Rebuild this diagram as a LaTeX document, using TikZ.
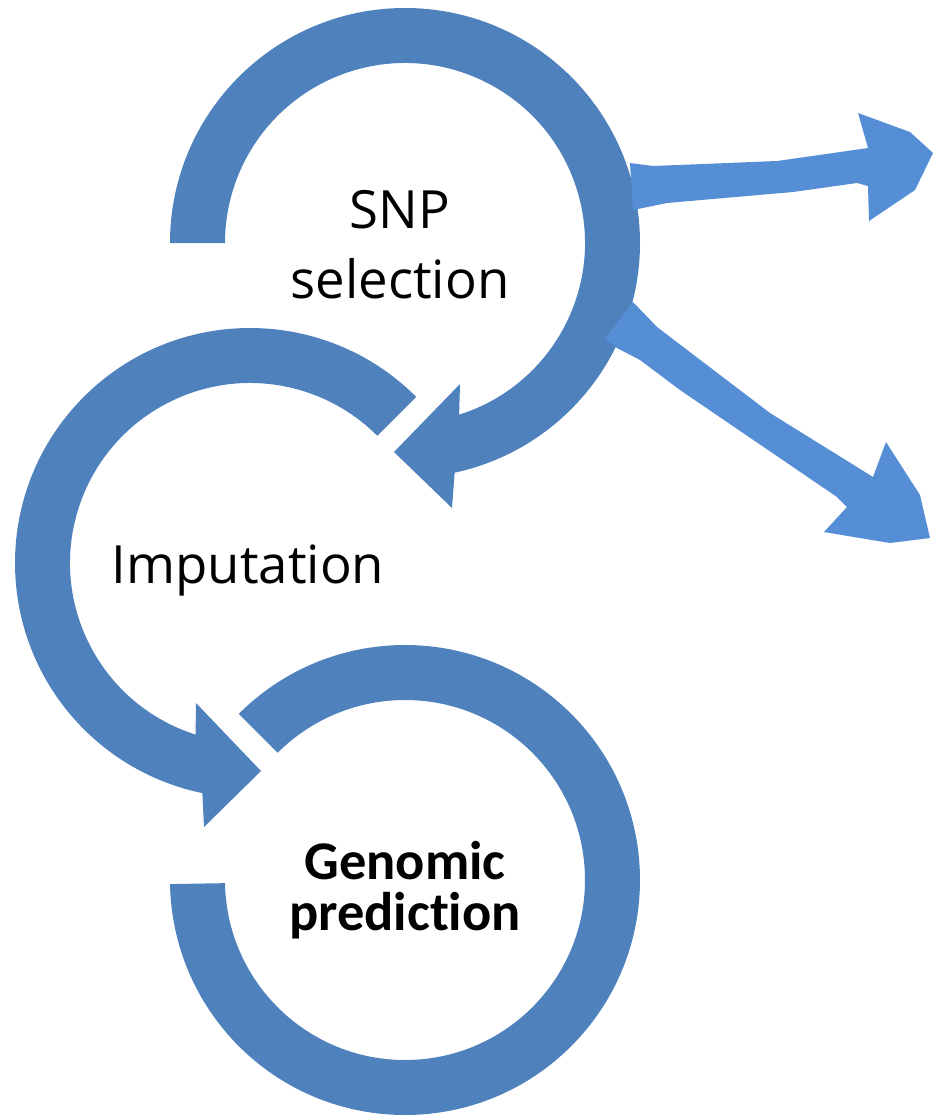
\documentclass[tikz,border=0pt]{standalone}
\usepackage{fontspec}
\newfontfamily\comicfont{Open Sans}
\newfontfamily\calfont[Ligatures=NoCommon]{Carlito}
\usetikzlibrary{calc}
\definecolor{ringblue}{HTML}{4F81BD}
\definecolor{arrowblue}{HTML}{558ED5}
\tikzset{
  ring/.style={fill=ringblue, draw=none},
  sidearrow/.style={fill=arrowblue, draw=none},
  handtext/.style={font=\comicfont\fontsize{30}{39.8}\selectfont, align=center, inner sep=0pt, text=black},
  boldtext/.style={font=\calfont\bfseries\fontsize{31}{29}\selectfont, align=center, inner sep=0pt, text=black}
}
\begin{document}
\begin{tikzpicture}[x=0.02cm, y=0.02cm]
\useasboundingbox (0,0) rectangle (933,-1117);
\coordinate (c1) at (405,-243);
\coordinate (c2) at (250,-563);
\coordinate (c3) at (405,-880);
% ring 1: SNP selection
\fill[ring] ([shift={(180:235)}]c1) arc[start angle=180, end angle=-77.8, radius=235]
  -- (452,-508) -- (394,-452) -- (460,-384) -- ([shift={(-72.5:180)}]c1)
  arc[start angle=-72.5, end angle=180, radius=180] -- cycle;
% ring 2: Imputation
\fill[ring] ([shift={(45:235)}]c2) arc[start angle=45, end angle=258.3, radius=235]
  -- (204,-827) -- (261,-771) -- (196,-703) -- ([shift={(252.4:180)}]c2)
  arc[start angle=252.4, end angle=45, radius=180] -- cycle;
% ring 3: Genomic prediction
\fill[ring] ([shift={(135:235)}]c3) arc[start angle=135, end angle=-179, radius=235]
  -- ([shift={(-179:180)}]c3)
  arc[start angle=-179, end angle=135, radius=180] -- cycle;
% side arrows
\fill[sidearrow] (630,-163) -- (653,-166) -- (777,-161) -- (868,-148) -- (858,-113)
  -- (910,-132) -- (933,-153) -- (915,-190) -- (869,-221) -- (868,-186) -- (857,-183)
  -- (793,-192) -- (667,-203) -- (633,-210) -- cycle;
\fill[sidearrow] (633,-302) -- (657,-327) -- (770,-413) -- (873,-477) -- (886,-442)
  -- (920,-495) -- (930,-538) -- (890,-543) -- (824,-532) -- (847,-507) -- (837,-497)
  -- (680,-390) -- (640,-360) -- (617,-348) -- (605,-339) -- cycle;
% labels
\node[handtext] (snp) at (400,-245) {SNP\\selection};
\node[handtext, anchor=base] (imp) at (248,-583) {Imputation};
\node[boldtext] (gp) at (405,-890) {Genomic\\prediction};
\end{tikzpicture}
\end{document}
